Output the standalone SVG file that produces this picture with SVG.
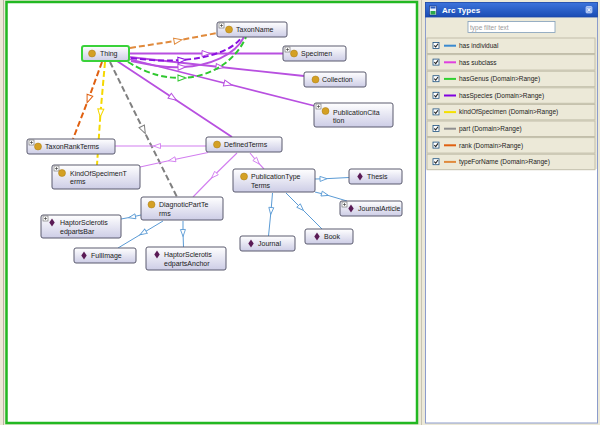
<svg xmlns="http://www.w3.org/2000/svg" width="600" height="425" viewBox="0 0 600 425">
<defs>
<style>
text{font-family:"Liberation Sans",Arial,sans-serif;}
.nl{font-size:7px;fill:#1a1a1a;}
.nb{fill:url(#ng);stroke:#5a5a6e;stroke-width:1;}
.cls{fill:#d4a024;stroke:#a87a10;stroke-width:0.5;}
.ind{fill:#5a1a55;}
.plus rect{fill:#fff;stroke:#666;stroke-width:0.6;}
.plus path{stroke:#333;stroke-width:0.6;fill:none;}
.e{fill:none;}
.sub{stroke:#b850e0;stroke-width:1.8;marker-mid:url(#mSub);}
.sub2{stroke:#d27ef0;stroke-width:1.1;marker-mid:url(#mSub2);}
.hi{stroke:#5b9bd5;stroke-width:1;marker-mid:url(#mInd);}
.spec{stroke:#8a10e0;stroke-width:2;stroke-dasharray:6 3;marker-mid:url(#mSpec);}
.genus{stroke:#30c830;stroke-width:2;stroke-dasharray:6 3;marker-mid:url(#mGenus);}
.kind{stroke:#f5d800;stroke-width:2;stroke-dasharray:6 3;marker-mid:url(#mKind);}
.part{stroke:#808080;stroke-width:2;stroke-dasharray:6 3;marker-mid:url(#mPart);}
.rank{stroke:#e06010;stroke-width:2;stroke-dasharray:6 3;marker-mid:url(#mRank);}
.tfn{stroke:#e08a3c;stroke-width:2;stroke-dasharray:6 3;marker-mid:url(#mTfn);}
.row{fill:#ece9d8;stroke:#c2beaa;stroke-width:1;}
.rt{font-size:6.5px;fill:#222;}
.cb{fill:#fff;stroke:#1c5180;stroke-width:0.8;}
.ck{fill:none;stroke:#222;stroke-width:1.1;}
</style>
<linearGradient id="ng" x1="0" y1="0" x2="0" y2="1">
<stop offset="0" stop-color="#ffffff"/>
<stop offset="1" stop-color="#cdcde6"/>
</linearGradient>
<linearGradient id="hg" x1="0" y1="0" x2="0" y2="1">
<stop offset="0" stop-color="#3d74dc"/>
<stop offset="1" stop-color="#1a4cb4"/>
</linearGradient>
<marker id="mSub" viewBox="0 0 9 7" refX="4.5" refY="3.5" markerWidth="9" markerHeight="7" markerUnits="userSpaceOnUse" orient="auto" overflow="visible"><path d="M0.5,0.5 L8.5,3.5 L0.5,6.5 Z" fill="#fff" stroke="#b850e0" stroke-width="1"/></marker>
<marker id="mSub2" viewBox="0 0 8 6" refX="4" refY="3" markerWidth="8" markerHeight="6" markerUnits="userSpaceOnUse" orient="auto" overflow="visible"><path d="M0.5,0.5 L7.5,3 L0.5,5.5 Z" fill="#fff" stroke="#d27ef0" stroke-width="0.9"/></marker>
<marker id="mInd" viewBox="0 0 8 6" refX="4" refY="3" markerWidth="8" markerHeight="6" markerUnits="userSpaceOnUse" orient="auto" overflow="visible"><path d="M0.5,0.5 L7.5,3 L0.5,5.5 Z" fill="#fff" stroke="#5b9bd5" stroke-width="0.9"/></marker>
<marker id="mSpec" viewBox="0 0 9 7" refX="4.5" refY="3.5" markerWidth="9" markerHeight="7" markerUnits="userSpaceOnUse" orient="auto" overflow="visible"><path d="M0.5,0.5 L8.5,3.5 L0.5,6.5 Z" fill="#fff" stroke="#8a10e0" stroke-width="1"/></marker>
<marker id="mGenus" viewBox="0 0 9 7" refX="4.5" refY="3.5" markerWidth="9" markerHeight="7" markerUnits="userSpaceOnUse" orient="auto" overflow="visible"><path d="M0.5,0.5 L8.5,3.5 L0.5,6.5 Z" fill="#fff" stroke="#30c830" stroke-width="1"/></marker>
<marker id="mKind" viewBox="0 0 9 7" refX="4.5" refY="3.5" markerWidth="9" markerHeight="7" markerUnits="userSpaceOnUse" orient="auto" overflow="visible"><path d="M0.5,0.5 L8.5,3.5 L0.5,6.5 Z" fill="#fff" stroke="#f5d800" stroke-width="1"/></marker>
<marker id="mPart" viewBox="0 0 9 7" refX="4.5" refY="3.5" markerWidth="9" markerHeight="7" markerUnits="userSpaceOnUse" orient="auto" overflow="visible"><path d="M0.5,0.5 L8.5,3.5 L0.5,6.5 Z" fill="#fff" stroke="#808080" stroke-width="1"/></marker>
<marker id="mRank" viewBox="0 0 9 7" refX="4.5" refY="3.5" markerWidth="9" markerHeight="7" markerUnits="userSpaceOnUse" orient="auto" overflow="visible"><path d="M0.5,0.5 L8.5,3.5 L0.5,6.5 Z" fill="#fff" stroke="#e06010" stroke-width="1"/></marker>
<marker id="mTfn" viewBox="0 0 9 7" refX="4.5" refY="3.5" markerWidth="9" markerHeight="7" markerUnits="userSpaceOnUse" orient="auto" overflow="visible"><path d="M0.5,0.5 L8.5,3.5 L0.5,6.5 Z" fill="#fff" stroke="#e08a3c" stroke-width="1"/></marker>
<g id="plusIcon" class="plus"><rect x="0" y="0" width="5" height="5"/><path d="M1,2.5 H4 M2.5,1 V4"/></g>
<path id="dia" d="M0,-4 L2.7,0 L0,4 L-2.7,0 Z" class="ind"/>
</defs>

<!-- backgrounds -->
<rect x="0" y="0" width="600" height="425" fill="#ece9d8"/>
<line x1="3.5" y1="0" x2="3.5" y2="425" stroke="#b8b4a2" stroke-width="1"/>
<rect x="6.5" y="2" width="410.5" height="421" fill="#ffffff" stroke="#22b822" stroke-width="2.5"/>
<line x1="421.5" y1="0" x2="421.5" y2="425" stroke="#c8c4b2" stroke-width="1"/>

<!-- connectors -->
<g id="connectors">
<path class="e tfn" d="M130,48 L178,40.5 L217,33"/>
<path class="e sub" d="M129,53.5 L206,53.5 L283,53.5"/>
<path class="e sub" d="M129,57 L220,67 L304,76"/>
<path class="e sub" d="M129,59 L228,84 L315,106"/>
<path class="e sub" d="M117,61 L173,98 L232,137"/>
<path class="e sub" d="M131,61 C155,66 168,68 182,67 C210,66 235,55 244,37"/>
<path class="e spec" d="M131,58 C155,61 168,61 182,60 C210,58 233,50 242,37"/>
<path class="e genus" d="M128,62 C150,75 165,78 182,78 C210,77 235,62 246,37"/>
<path class="e rank" d="M102,62 L88.5,99 L73,139"/>
<path class="e kind" d="M105,62 L100.5,113 L97,165"/>
<path class="e part" d="M110,62 L143.5,130 L177,197"/>
<path class="e sub2" d="M206,146 L157,146 L115,146"/>
<path class="e sub2" d="M208,152.5 L172,160 L140,167"/>
<path class="e sub2" d="M237,153 L214,175.5 L193,197"/>
<path class="e sub2" d="M250,153 L257,161.5 L264,169"/>
<path class="e hi" d="M141,215 L132,217 L121,219"/>
<path class="e hi" d="M163,221 L143,233 L118,248"/>
<path class="e hi" d="M183,221 L183,233 L183.5,247"/>
<path class="e hi" d="M315,179 L323.5,178.8 L349,177.5"/>
<path class="e hi" d="M315,192 L325,194.5 L347,201"/>
<path class="e hi" d="M272.5,193 L271,211 L268.5,236"/>
<path class="e hi" d="M286,193 L301,208 L322,229"/>
</g>

<!-- nodes -->
<g id="Thing"><rect x="82" y="46" width="47" height="15" rx="2" fill="url(#ng)" stroke="#3ad23a" stroke-width="2"/><circle class="cls" cx="92" cy="53.5" r="3.5"/><text class="nl" x="100" y="56.3">Thing</text></g>
<g id="TaxonName"><rect class="nb" x="217" y="22" width="70" height="15" rx="2"/><use href="#plusIcon" x="219" y="23"/><circle class="cls" cx="229" cy="29.5" r="3.5"/><text class="nl" x="236" y="32">TaxonName</text></g>
<g id="Specimen"><rect class="nb" x="283" y="46" width="63" height="15" rx="2"/><use href="#plusIcon" x="285" y="47"/><circle class="cls" cx="294" cy="53.5" r="3.5"/><text class="nl" x="301" y="56">Specimen</text></g>
<g id="Collection"><rect class="nb" x="304" y="72" width="62" height="15" rx="2"/><circle class="cls" cx="315.5" cy="79.5" r="3.5"/><text class="nl" x="322" y="82">Collection</text></g>
<g id="PublicationCitation"><rect class="nb" x="314" y="103" width="79" height="24" rx="2"/><use href="#plusIcon" x="316" y="104"/><circle class="cls" cx="325.5" cy="111" r="3.5"/><text class="nl" x="333" y="114.5">PublicationCita</text><text class="nl" x="333" y="123">tion</text></g>
<g id="DefinedTerms"><rect class="nb" x="206" y="137" width="76" height="15" rx="2"/><circle class="cls" cx="217" cy="144.5" r="3.5"/><text class="nl" x="224" y="147.2">DefinedTerms</text></g>
<g id="TaxonRankTerms"><rect class="nb" x="27" y="139" width="88" height="15" rx="2"/><use href="#plusIcon" x="29" y="140"/><circle class="cls" cx="38" cy="146.5" r="3.5"/><text class="nl" x="45" y="149.2">TaxonRankTerms</text></g>
<g id="KindOfSpecimenTerms"><rect class="nb" x="52" y="165" width="88" height="24" rx="2"/><use href="#plusIcon" x="54" y="166"/><circle class="cls" cx="62" cy="173" r="3.5"/><text class="nl" x="70" y="175.5">KindOfSpecimenT</text><text class="nl" x="70" y="184">erms</text></g>
<g id="DiagnoticPartTerms"><rect class="nb" x="141" y="197" width="82" height="23" rx="2"/><circle class="cls" cx="151.5" cy="204.5" r="3.5"/><text class="nl" x="159" y="206.8">DiagnoticPartTe</text><text class="nl" x="159" y="215.5">rms</text></g>
<g id="HaptorSclerotisedpartsBar"><rect class="nb" x="41" y="215" width="80" height="23" rx="2"/><use href="#plusIcon" x="43" y="216"/><use href="#dia" x="52" y="222.5"/><text class="nl" x="60" y="224.8">HaptorSclerotis</text><text class="nl" x="60" y="233.5">edpartsBar</text></g>
<g id="FullImage"><rect class="nb" x="74" y="248" width="62" height="15" rx="2"/><use href="#dia" x="84" y="255.5"/><text class="nl" x="91" y="258.2">FullImage</text></g>
<g id="HaptorSclerotisedpartsAnchor"><rect class="nb" x="146" y="247" width="80" height="23" rx="2"/><use href="#dia" x="157" y="254.5"/><text class="nl" x="164" y="257">HaptorSclerotis</text><text class="nl" x="164" y="265.8">edpartsAnchor</text></g>
<g id="PublicationTypeTerms"><rect class="nb" x="233" y="169" width="82" height="23" rx="2"/><circle class="cls" cx="244" cy="176.5" r="3.5"/><text class="nl" x="251" y="179">PublicationType</text><text class="nl" x="251" y="187.8">Terms</text></g>
<g id="Thesis"><rect class="nb" x="349" y="169" width="53" height="15" rx="2"/><use href="#dia" x="360" y="176.5"/><text class="nl" x="367" y="179.2">Thesis</text></g>
<g id="JournalArticle"><rect class="nb" x="340" y="201" width="62" height="15" rx="2"/><use href="#plusIcon" x="342" y="202"/><use href="#dia" x="351" y="208.5"/><text class="nl" x="358" y="211.2">JournalArticle</text></g>
<g id="Journal"><rect class="nb" x="240" y="236" width="55" height="15" rx="2"/><use href="#dia" x="251" y="243.5"/><text class="nl" x="258" y="246.2">Journal</text></g>
<g id="Book"><rect class="nb" x="305" y="229" width="48" height="15" rx="2"/><use href="#dia" x="317" y="236.5"/><text class="nl" x="324" y="239">Book</text></g>

<!-- Arc Types panel -->
<g id="arcTypesPanel">
<rect x="425.5" y="2.5" width="172" height="420.5" fill="#ffffff" stroke="#8c9ccc" stroke-width="1"/>
<rect x="426" y="17" width="171" height="152" fill="#ece9d8"/>
<rect x="425.5" y="2.5" width="172" height="14.5" fill="url(#hg)" stroke="#1c48a8" stroke-width="0.8"/>
<rect x="429.5" y="6" width="7" height="9" fill="#e8f0ff" stroke="#102a70" stroke-width="0.6"/>
<rect x="430.5" y="6.5" width="5" height="2" fill="#2a5cc0"/>
<rect x="430.5" y="11" width="5" height="3.5" fill="#2aa84a"/>
<text x="442" y="13.2" font-size="8" font-weight="bold" fill="#ffffff">Arc Types</text>
<rect x="586" y="6.5" width="6" height="6.5" rx="1" fill="#8fb0ee" stroke="#e0e8ff" stroke-width="0.6"/>
<path d="M587.6,8.1 L590.4,11.4 M590.4,8.1 L587.6,11.4" stroke="#ffffff" stroke-width="0.9"/>
<rect x="468" y="21.5" width="87" height="11" fill="#ffffff" stroke="#7f9db9" stroke-width="0.8"/>
<text x="470" y="29.5" font-size="6.5" fill="#9a9a9a">type filter text</text>
<g id="row0"><rect class="row" x="427" y="38" width="168" height="15.5"/><rect class="cb" x="433" y="42.5" width="6" height="6"/><path class="ck" d="M434.3,45.5 L435.7,47 L438,43.8"/><line x1="444" y1="45.7" x2="456" y2="45.7" stroke="#3a8ad0" stroke-width="2"/><text class="rt" x="459" y="48">has individual</text></g>
<g id="row1"><rect class="row" x="427" y="54.6" width="168" height="15.5"/><rect class="cb" x="433" y="59.1" width="6" height="6"/><path class="ck" d="M434.3,62.1 L435.7,63.6 L438,60.4"/><line x1="444" y1="62.3" x2="456" y2="62.3" stroke="#e040e0" stroke-width="2"/><text class="rt" x="459" y="64.6">has subclass</text></g>
<g id="row2"><rect class="row" x="427" y="71.2" width="168" height="15.5"/><rect class="cb" x="433" y="75.7" width="6" height="6"/><path class="ck" d="M434.3,78.7 L435.7,80.2 L438,77"/><line x1="444" y1="78.9" x2="456" y2="78.9" stroke="#30d030" stroke-width="2"/><text class="rt" x="459" y="81.2">hasGenus (Domain&gt;Range)</text></g>
<g id="row3"><rect class="row" x="427" y="87.8" width="168" height="15.5"/><rect class="cb" x="433" y="92.3" width="6" height="6"/><path class="ck" d="M434.3,95.3 L435.7,96.8 L438,93.6"/><line x1="444" y1="95.5" x2="456" y2="95.5" stroke="#8000e0" stroke-width="2"/><text class="rt" x="459" y="97.8">hasSpecies (Domain&gt;Range)</text></g>
<g id="row4"><rect class="row" x="427" y="104.4" width="168" height="15.5"/><rect class="cb" x="433" y="108.9" width="6" height="6"/><path class="ck" d="M434.3,111.9 L435.7,113.4 L438,110.2"/><line x1="444" y1="112.1" x2="456" y2="112.1" stroke="#f5e000" stroke-width="2"/><text class="rt" x="459" y="114.4">kindOfSpecimen (Domain&gt;Range)</text></g>
<g id="row5"><rect class="row" x="427" y="121" width="168" height="15.5"/><rect class="cb" x="433" y="125.5" width="6" height="6"/><path class="ck" d="M434.3,128.5 L435.7,130 L438,126.8"/><line x1="444" y1="128.7" x2="456" y2="128.7" stroke="#909090" stroke-width="2"/><text class="rt" x="459" y="131">part (Domain&gt;Range)</text></g>
<g id="row6"><rect class="row" x="427" y="137.6" width="168" height="15.5"/><rect class="cb" x="433" y="142.1" width="6" height="6"/><path class="ck" d="M434.3,145.1 L435.7,146.6 L438,143.4"/><line x1="444" y1="145.3" x2="456" y2="145.3" stroke="#e06010" stroke-width="2"/><text class="rt" x="459" y="147.6">rank (Domain&gt;Range)</text></g>
<g id="row7"><rect class="row" x="427" y="154.2" width="168" height="15.5"/><rect class="cb" x="433" y="158.7" width="6" height="6"/><path class="ck" d="M434.3,161.7 L435.7,163.2 L438,160"/><line x1="444" y1="161.9" x2="456" y2="161.9" stroke="#e08a3c" stroke-width="2"/><text class="rt" x="459" y="164.2">typeForName (Domain&gt;Range)</text></g>
</g>
</svg>
